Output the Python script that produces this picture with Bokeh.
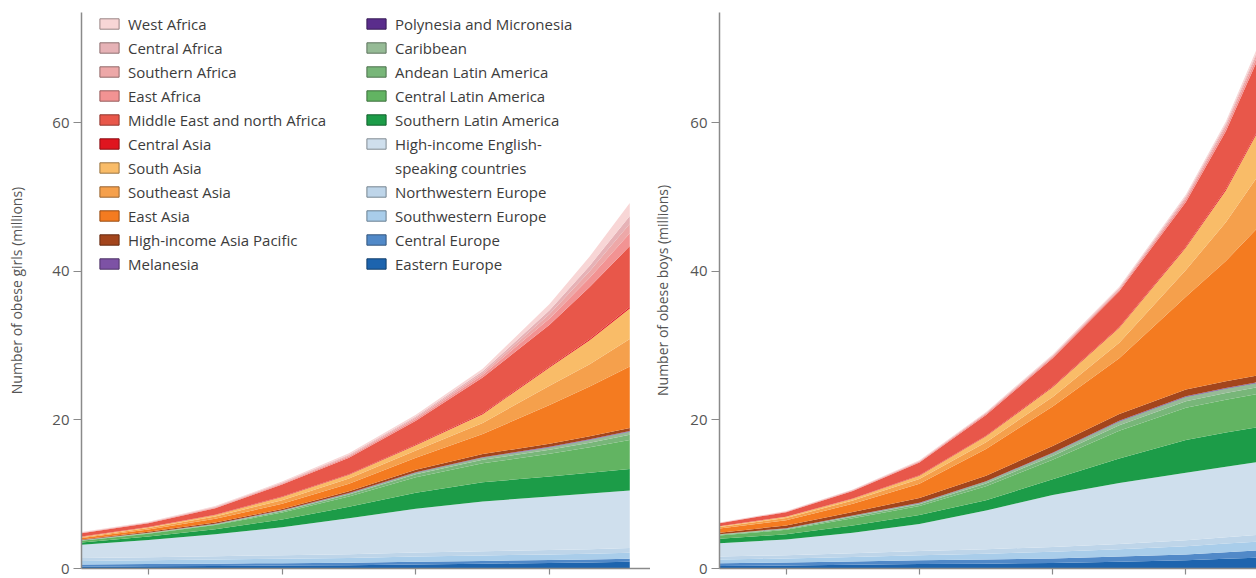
from bokeh.plotting import figure
from bokeh.models import (ColumnDataSource, Range1d, FixedTicker, Legend, LegendItem,
                          CustomLabelingPolicy)
from bokeh.layouts import row
from bokeh.embed import file_html
from bokeh.resources import INLINE

# ---------------- data (millions) ----------------
years = [1975, 1980, 1985, 1990, 1995, 2000, 2005, 2010, 2013, 2016]

# stacking order, bottom -> top
regions = [
    "Eastern Europe", "Central Europe", "Southwestern Europe", "Northwestern Europe",
    "High-income English-speaking countries", "Southern Latin America",
    "Central Latin America", "Andean Latin America", "Caribbean",
    "Polynesia and Micronesia", "Melanesia", "High-income Asia Pacific",
    "East Asia", "Southeast Asia", "South Asia", "Central Asia",
    "Middle East and north Africa", "East Africa", "Southern Africa",
    "Central Africa", "West Africa",
]

region_colors = [
    "#1d64ae", "#5189c8", "#a9cdea", "#bed5e9",
    "#cfdfed", "#1c9c48",
    "#62b462", "#78b679", "#96bb96",
    "#5a2d8c", "#7d52a5", "#a3451c",
    "#f47b20", "#f5a04c", "#f9bc68", "#e0151f",
    "#e8574a", "#f29393", "#eda8a8",
    "#e6b2b6", "#f8d6d6",
]

# Girls
g_eastern_europe = [0.25, 0.3, 0.35, 0.4, 0.45, 0.55, 0.65, 0.75, 0.8, 0.9]
g_central_europe = [0.3, 0.3, 0.3, 0.32, 0.33, 0.35, 0.37, 0.4, 0.4, 0.42]
g_southwestern_europe = [0.45, 0.5, 0.55, 0.6, 0.65, 0.7, 0.72, 0.75, 0.78, 0.8]
g_northwestern_europe = [0.4, 0.42, 0.45, 0.48, 0.5, 0.55, 0.58, 0.6, 0.62, 0.63]
g_high_income_english = [1.8, 2.3, 2.95, 3.75, 4.85, 5.9, 6.7, 7.2, 7.5, 7.75]
g_southern_latin_america = [0.3, 0.48, 0.7, 1.05, 1.52, 2.15, 2.58, 2.7, 2.8, 2.9]
g_central_latin_america = [0.22, 0.38, 0.54, 0.93, 1.4, 2.1, 2.57, 3.04, 3.42, 3.9]
g_andean_latin_america = [0.05, 0.07, 0.1, 0.17, 0.25, 0.38, 0.46, 0.55, 0.62, 0.7]
g_caribbean = [0.03, 0.05, 0.06, 0.1, 0.15, 0.22, 0.27, 0.31, 0.36, 0.4]
g_polynesia_micronesia = [0.01, 0.01, 0.015, 0.02, 0.02, 0.025, 0.03, 0.03, 0.035, 0.04]
g_melanesia = [0.01, 0.015, 0.02, 0.025, 0.03, 0.035, 0.04, 0.045, 0.05, 0.06]
g_high_income_asia_pacific = [0.08, 0.12, 0.165, 0.155, 0.25, 0.34, 0.43, 0.425, 0.415, 0.4]
g_east_asia = [0.2, 0.3, 0.5, 0.7, 1.0, 1.6, 2.7, 5.2, 6.7, 8.3]
g_southeast_asia = [0.1, 0.2, 0.3, 0.5, 0.7, 1.0, 1.5, 2.6, 3.0, 3.7]
g_south_asia = [0.07, 0.11, 0.2, 0.43, 0.52, 0.7, 1.18, 2.45, 3.22, 4.1]
g_central_asia = [0.03, 0.04, 0.05, 0.07, 0.08, 0.1, 0.12, 0.15, 0.18, 0.2]
g_middle_east_north_africa = [0.45, 0.5, 0.85, 1.6, 2.2, 3.2, 4.8, 5.6, 7.0, 8.2]
g_east_africa = [0.045, 0.06, 0.09, 0.12, 0.18, 0.24, 0.36, 0.84, 1.23, 1.74]
g_southern_africa = [0.035, 0.045, 0.065, 0.09, 0.13, 0.18, 0.26, 0.62, 0.9, 1.28]
g_central_africa = [0.025, 0.035, 0.055, 0.07, 0.11, 0.14, 0.22, 0.5, 0.74, 1.04]
g_west_africa = [0.045, 0.06, 0.09, 0.12, 0.18, 0.24, 0.36, 0.84, 1.23, 1.74]

# Boys
b_eastern_europe = [0.35, 0.4, 0.5, 0.6, 0.65, 0.75, 0.9, 1.1, 1.3, 1.5]
b_central_europe = [0.35, 0.4, 0.45, 0.5, 0.55, 0.6, 0.7, 0.8, 0.9, 1.0]
b_southwestern_europe = [0.5, 0.55, 0.6, 0.7, 0.8, 0.9, 1.0, 1.1, 1.15, 1.2]
b_northwestern_europe = [0.4, 0.45, 0.5, 0.55, 0.6, 0.65, 0.7, 0.8, 0.85, 0.9]
b_high_income_english = [1.8, 2.1, 2.75, 3.65, 5.2, 7.0, 8.2, 9.1, 9.5, 9.9]
b_southern_latin_america = [0.6, 0.7, 1.0, 1.2, 1.4, 2.1, 3.3, 4.4, 4.6, 4.7]
b_central_latin_america = [0.45, 0.6, 0.98, 1.2, 1.88, 2.63, 3.75, 4.35, 4.43, 4.5]
b_andean_latin_america = [0.09, 0.12, 0.19, 0.24, 0.37, 0.52, 0.75, 0.87, 0.88, 0.9]
b_caribbean = [0.06, 0.08, 0.13, 0.16, 0.25, 0.35, 0.5, 0.58, 0.59, 0.6]
b_polynesia_micronesia = [0.01, 0.015, 0.02, 0.025, 0.03, 0.035, 0.04, 0.045, 0.05, 0.05]
b_melanesia = [0.01, 0.015, 0.02, 0.025, 0.03, 0.035, 0.04, 0.045, 0.05, 0.05]
b_high_income_asia_pacific = [0.18, 0.37, 0.46, 0.65, 0.74, 0.93, 0.92, 0.91, 0.9, 0.9]
b_east_asia = [0.6, 0.7, 1.1, 1.9, 3.6, 5.3, 7.5, 12.5, 16.2, 20.8]
b_southeast_asia = [0.2, 0.3, 0.45, 0.65, 0.9, 1.3, 2.1, 3.6, 5.2, 7.4]
b_south_asia = [0.08, 0.15, 0.25, 0.45, 0.8, 1.3, 2.0, 3.0, 4.3, 6.4]
b_central_asia = [0.02, 0.03, 0.04, 0.06, 0.08, 0.1, 0.12, 0.15, 0.18, 0.2]
b_middle_east_north_africa = [0.4, 0.6, 1.0, 1.7, 2.8, 3.8, 4.8, 6.0, 7.8, 10.0]
b_east_africa = [0.035, 0.05, 0.07, 0.1, 0.14, 0.18, 0.21, 0.35, 0.45, 0.63]
b_southern_africa = [0.025, 0.04, 0.05, 0.075, 0.1, 0.12, 0.15, 0.25, 0.33, 0.45]
b_central_africa = [0.015, 0.02, 0.03, 0.045, 0.06, 0.08, 0.09, 0.15, 0.2, 0.27]
b_west_africa = [0.025, 0.04, 0.05, 0.08, 0.1, 0.12, 0.15, 0.25, 0.32, 0.45]

girls_series = [
    g_eastern_europe, g_central_europe, g_southwestern_europe, g_northwestern_europe,
    g_high_income_english, g_southern_latin_america, g_central_latin_america,
    g_andean_latin_america, g_caribbean, g_polynesia_micronesia, g_melanesia,
    g_high_income_asia_pacific, g_east_asia, g_southeast_asia, g_south_asia,
    g_central_asia, g_middle_east_north_africa, g_east_africa, g_southern_africa,
    g_central_africa, g_west_africa,
]
boys_series = [
    b_eastern_europe, b_central_europe, b_southwestern_europe, b_northwestern_europe,
    b_high_income_english, b_southern_latin_america, b_central_latin_america,
    b_andean_latin_america, b_caribbean, b_polynesia_micronesia, b_melanesia,
    b_high_income_asia_pacific, b_east_asia, b_southeast_asia, b_south_asia,
    b_central_asia, b_middle_east_north_africa, b_east_africa, b_southern_africa,
    b_central_africa, b_west_africa,
]

x_ticks = [1980, 1990, 2000, 2010]
y_ticks = [0, 20, 40, 60]

legend_col1 = ["West Africa", "Central Africa", "Southern Africa", "East Africa",
               "Middle East and north Africa", "Central Asia", "South Asia",
               "Southeast Asia", "East Asia", "High-income Asia Pacific", "Melanesia"]
legend_col2 = ["Polynesia and Micronesia", "Caribbean", "Andean Latin America",
               "Central Latin America", "Southern Latin America",
               "High-income English-speaking countries", "Northwestern Europe",
               "Southwestern Europe", "Central Europe", "Eastern Europe"]

FONT = "Open Sans"
AXIS_COLOR = "#8a8a8a"
TEXT_COLOR = "#3c3c3c"
NAN = float("nan")


def darker(hexcol, f=0.62):
    r, g, b = int(hexcol[1:3], 16), int(hexcol[3:5], 16), int(hexcol[5:7], 16)
    return "#%02x%02x%02x" % (int(r * f), int(g * f), int(b * f))


def make_panel(series, ylabel, width, border_left, x_end, title_standoff, with_legend):
    data = {"year": years}
    keys = []
    for i, s in enumerate(series):
        k = "r%d" % i
        data[k] = s
        keys.append(k)
    src = ColumnDataSource(data)

    p = figure(width=width, height=578, output_backend="svg", toolbar_location=None,
               x_range=Range1d(1975, x_end), y_range=Range1d(0, 74.85),
               min_border_left=border_left, min_border_right=0,
               min_border_top=12, min_border_bottom=0)
    p.outline_line_color = None
    p.grid.visible = False
    p.background_fill_color = "white"
    p.border_fill_color = "white"

    p.varea_stack(stackers=keys, x="year", color=region_colors, source=src)

    # y axis
    p.yaxis.ticker = FixedTicker(ticks=y_ticks)
    p.yaxis.axis_line_color = AXIS_COLOR
    p.yaxis.axis_line_width = 1.5
    p.yaxis.major_tick_line_color = AXIS_COLOR
    p.yaxis.major_tick_line_width = 1.2
    p.yaxis.major_tick_out = 8
    p.yaxis.major_tick_in = 0
    p.yaxis.minor_tick_line_color = None
    p.yaxis.major_label_text_font = FONT
    p.yaxis.major_label_text_font_size = "15px"
    p.yaxis.major_label_text_color = "#555555"
    p.yaxis.major_label_standoff = 4
    p.yaxis.axis_label = ylabel
    p.yaxis.axis_label_text_font = FONT
    p.yaxis.axis_label_text_font_size = "14px"
    p.yaxis.axis_label_text_font_style = "normal"
    p.yaxis.axis_label_text_color = "#555555"
    p.yaxis.axis_label_standoff = title_standoff

    # x axis: year labels lie below the visible crop of the reference
    p.xaxis.ticker = FixedTicker(ticks=x_ticks)
    p.xaxis.axis_line_color = AXIS_COLOR
    p.xaxis.axis_line_width = 1.5
    p.xaxis.major_tick_line_color = AXIS_COLOR
    p.xaxis.major_tick_line_width = 1.2
    p.xaxis.major_tick_out = 6
    p.xaxis.major_tick_in = 0
    p.xaxis.minor_tick_line_color = None
    p.xaxis.major_label_standoff = 0
    p.xaxis.major_label_text_font_size = "2px"
    p.xaxis.major_label_policy = CustomLabelingPolicy(code="return new Set()")

    if with_legend:
        swatch = {}
        for name, c in zip(regions, region_colors):
            swatch[name] = p.quad(left=[NAN], right=[NAN], top=[NAN], bottom=[NAN],
                                  fill_color=c, line_color=darker(c), line_width=1)
        blank = p.quad(left=[NAN], right=[NAN], top=[NAN], bottom=[NAN],
                       fill_alpha=0, line_alpha=0)

        items1 = [LegendItem(label=n, renderers=[swatch[n]]) for n in legend_col1]
        items2 = []
        for n in legend_col2:
            if n == "High-income English-speaking countries":
                items2.append(LegendItem(label="High-income English-", renderers=[swatch[n]]))
                items2.append(LegendItem(label="speaking countries", renderers=[blank]))
            else:
                items2.append(LegendItem(label=n, renderers=[swatch[n]]))

        common = dict(glyph_width=24, glyph_height=13, label_standoff=7, spacing=3,
                      label_height=21, padding=0, margin=0,
                      border_line_alpha=0, background_fill_alpha=0,
                      label_text_font=FONT, label_text_font_size="15px",
                      label_text_color=TEXT_COLOR)
        p.add_layout(Legend(items=items1, location=(16, 294), **common))
        p.add_layout(Legend(items=items2, location=(283, 294), **common))
    return p


left = make_panel(girls_series, "Number of obese girls (millions)", 650, 81, 2017.55, 23, True)
right = make_panel(boys_series, "Number of obese boys (millions)", 606, 66, 2015.3, 15, False)

layout = row(left, right)
open("out.html", "w").write(file_html(layout, INLINE))
